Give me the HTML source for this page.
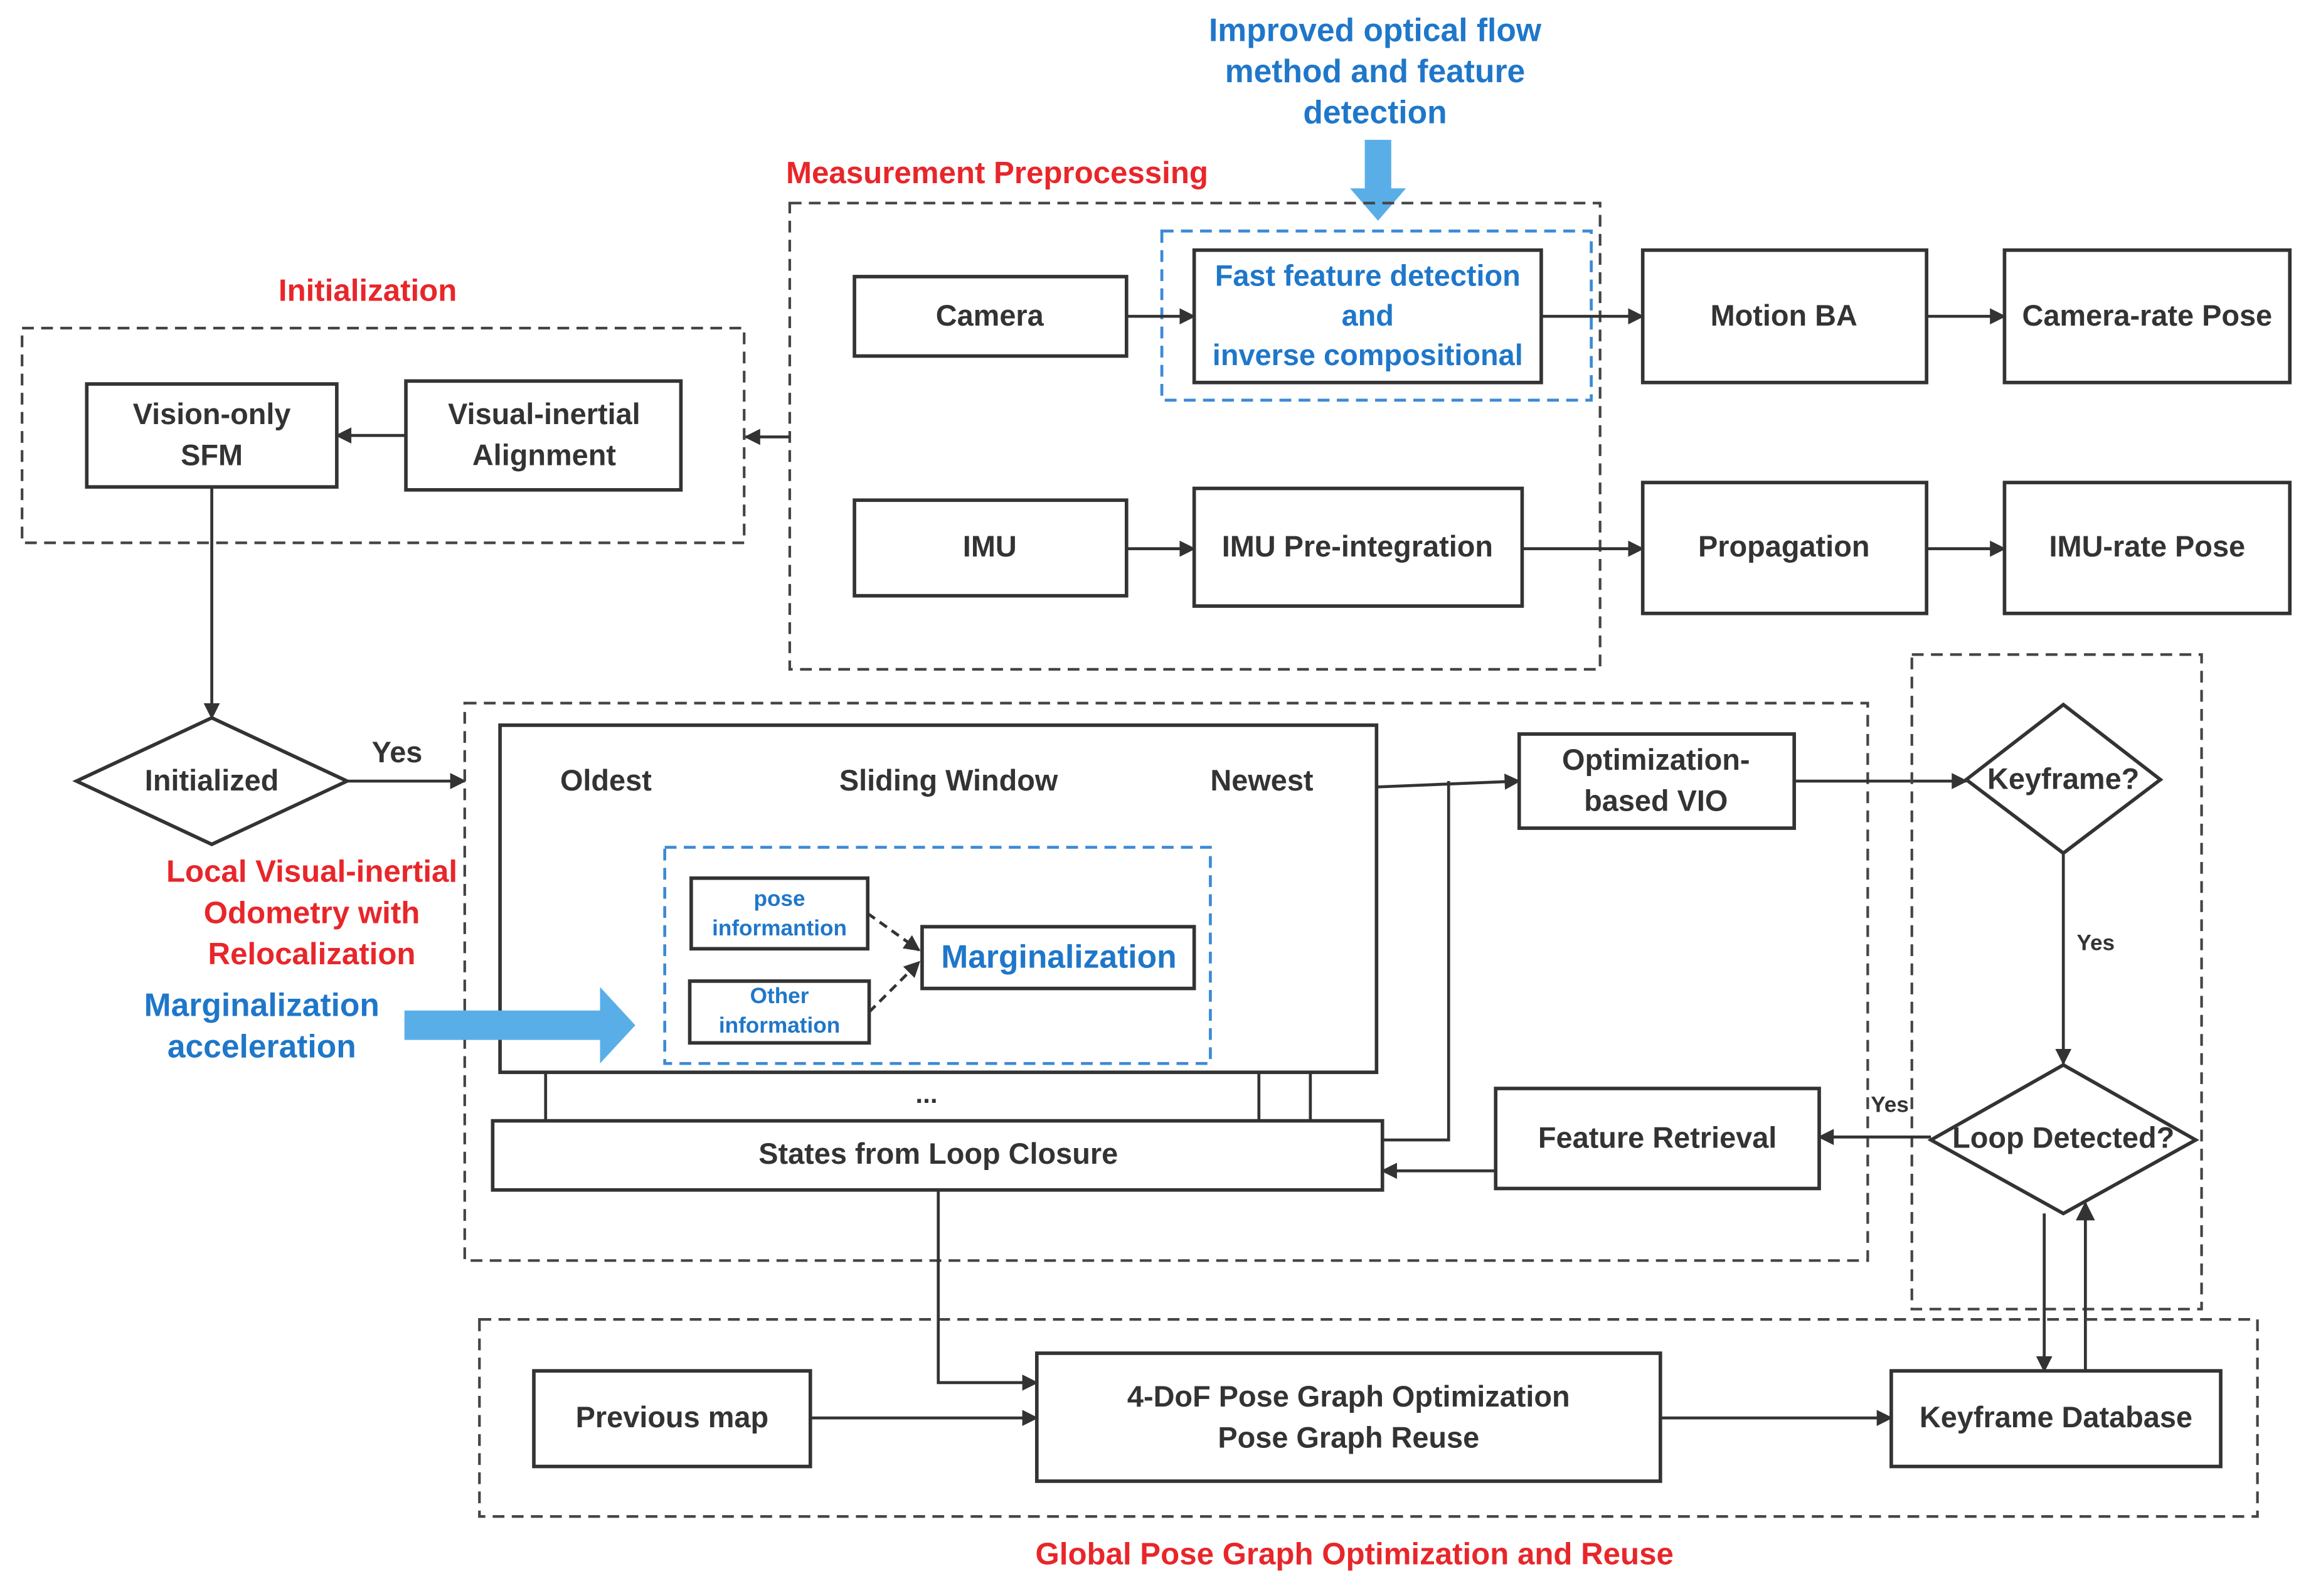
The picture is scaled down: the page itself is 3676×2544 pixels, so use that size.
<!DOCTYPE html>
<html><head><meta charset="utf-8"><style>
html,body{margin:0;padding:0;background:#fff;}
svg{display:block}
text{font-family:"Liberation Sans Narrow","Liberation Sans",sans-serif;font-weight:bold;text-anchor:middle;dominant-baseline:middle}
.k{fill:#333}
.r{fill:#e8262a}
.b{fill:#1f77c9}
.box{fill:#fff;stroke:#333;stroke-width:2.4}
.dash{fill:none;stroke:#444;stroke-width:1.8;stroke-dasharray:8 5}
.bd{fill:none;stroke:#3d8ad6;stroke-width:2;stroke-dasharray:8 5}
.ln{fill:none;stroke:#333;stroke-width:2}
</style></head><body>
<svg width="3676" height="2544" viewBox="0 0 1568 1085" xmlns="http://www.w3.org/2000/svg">
<defs><marker id="a" viewBox="0 0 10 10" refX="9" refY="5" markerWidth="13" markerHeight="11" orient="auto" markerUnits="userSpaceOnUse"><path d="M0,0L10,5L0,10z" fill="#333"/></marker>
<marker id="a2" viewBox="0 0 10 10" refX="9" refY="5" markerWidth="14" markerHeight="13" orient="auto" markerUnits="userSpaceOnUse"><path d="M0,0L10,5L0,10z" fill="#333"/></marker></defs>

<text class="b" x="935" y="22" font-size="22">Improved optical flow</text>
<text class="b" x="935" y="50" font-size="22">method and feature</text>
<text class="b" x="935" y="78" font-size="22">detection</text>
<path d="M928,95H946V128H956L937,150L918,128H928Z" fill="#5aaee8"/>

<text class="r" x="678" y="119" font-size="21">Measurement Preprocessing</text>
<rect class="dash" x="537" y="138" width="551" height="317"/>
<rect class="bd" x="790" y="157" width="292" height="115"/>
<rect class="box" x="581" y="188" width="185" height="54"/><text class="k" x="673" y="216" font-size="20">Camera</text>
<rect class="box" x="812" y="170" width="236" height="90"/>
<text class="b" x="930" y="189" font-size="20">Fast feature detection</text>
<text class="b" x="930" y="216" font-size="20">and</text>
<text class="b" x="930" y="243" font-size="20">inverse compositional</text>
<rect class="box" x="1117" y="170" width="193" height="90"/><text class="k" x="1213" y="216" font-size="20">Motion BA</text>
<rect class="box" x="1363" y="170" width="194" height="90"/><text class="k" x="1460" y="216" font-size="20">Camera-rate Pose</text>
<rect class="box" x="581" y="340" width="185" height="65"/><text class="k" x="673" y="373" font-size="20">IMU</text>
<rect class="box" x="812" y="332" width="223" height="80"/><text class="k" x="923" y="373" font-size="20">IMU Pre-integration</text>
<rect class="box" x="1117" y="328" width="193" height="89"/><text class="k" x="1213" y="373" font-size="20">Propagation</text>
<rect class="box" x="1363" y="328" width="194" height="89"/><text class="k" x="1460" y="373" font-size="20">IMU-rate Pose</text>
<path class="ln" d="M766,215H812" marker-end="url(#a)"/>
<path class="ln" d="M1048,215H1117" marker-end="url(#a)"/>
<path class="ln" d="M1310,215H1363" marker-end="url(#a)"/>
<path class="ln" d="M766,373H812" marker-end="url(#a)"/>
<path class="ln" d="M1035,373H1117" marker-end="url(#a)"/>
<path class="ln" d="M1310,373H1363" marker-end="url(#a)"/>
<path class="ln" d="M537,297H507" marker-end="url(#a)"/>

<text class="r" x="250" y="199" font-size="21">Initialization</text>
<rect class="dash" x="15" y="223" width="491" height="146"/>
<rect class="box" x="59" y="261" width="170" height="70"/>
<text class="k" x="144" y="283" font-size="20">Vision-only</text><text class="k" x="144" y="311" font-size="20">SFM</text>
<rect class="box" x="276" y="259" width="187" height="74"/>
<text class="k" x="370" y="283" font-size="20">Visual-inertial</text><text class="k" x="370" y="311" font-size="20">Alignment</text>
<path class="ln" d="M276,296H229" marker-end="url(#a)"/>
<path class="ln" d="M144,331V488" marker-end="url(#a)"/>
<path class="box" d="M144,488L236,531L144,574L52,531Z"/>
<text class="k" x="144" y="532" font-size="20">Initialized</text>
<path class="ln" d="M236,531H316" marker-end="url(#a)"/>
<text class="k" x="270" y="513" font-size="20">Yes</text>

<rect class="dash" x="316" y="478" width="954" height="379"/>
<text class="r" x="212" y="594" font-size="21">Local Visual-inertial</text>
<text class="r" x="212" y="622" font-size="21">Odometry with</text>
<text class="r" x="212" y="650" font-size="21">Relocalization</text>
<text class="b" x="178" y="685" font-size="22">Marginalization</text>
<text class="b" x="178" y="713" font-size="22">acceleration</text>

<rect class="box" x="340" y="493" width="596" height="236"/>
<path d="M275,687H408V671L432,697L408,723V707H275Z" fill="#5aaee8"/>
<text class="k" x="412" y="532" font-size="20">Oldest</text>
<text class="k" x="645" y="532" font-size="20">Sliding Window</text>
<text class="k" x="858" y="532" font-size="20">Newest</text>
<rect class="bd" x="452" y="576" width="371" height="147"/>
<rect class="box" x="470" y="597" width="120" height="48"/>
<text class="b" x="530" y="612" font-size="15">pose</text><text class="b" x="530" y="632" font-size="15">informantion</text>
<rect class="box" x="469" y="667" width="122" height="42"/>
<text class="b" x="530" y="678" font-size="15">Other</text><text class="b" x="530" y="698" font-size="15">information</text>
<rect class="box" x="627" y="630" width="185" height="42"/>
<text class="b" x="720" y="652" font-size="22">Marginalization</text>
<path class="ln" d="M590,621L625,646" stroke-dasharray="6 4" marker-end="url(#a)"/>
<path class="ln" d="M591,688L625,654" stroke-dasharray="6 4" marker-end="url(#a)"/>
<path class="ln" d="M371,729V762M856,729V762M891,729V762"/>
<text class="k" x="630" y="745" font-size="18">...</text>
<rect class="box" x="335" y="762" width="605" height="47"/>
<text class="k" x="638" y="786" font-size="20">States from Loop Closure</text>
<path class="ln" d="M936,535L1033,531" marker-end="url(#a)"/>
<path class="ln" d="M940,775H985V531"/>
<rect class="box" x="1033" y="499" width="187" height="64"/>
<text class="k" x="1126" y="518" font-size="20">Optimization-</text><text class="k" x="1126" y="546" font-size="20">based VIO</text>
<path class="ln" d="M1220,531H1337" marker-end="url(#a)"/>

<rect class="dash" x="1300" y="445" width="197" height="445"/>
<path class="box" d="M1403,479L1469,530L1403,580L1337,530Z"/>
<text class="k" x="1403" y="531" font-size="20">Keyframe?</text>
<path class="ln" d="M1403,580V723" marker-end="url(#a)"/>
<text class="k" x="1425" y="642" font-size="15">Yes</text>
<path class="box" d="M1403,724L1493,775L1403,825L1313,775Z"/>
<text class="k" x="1403" y="775" font-size="20">Loop Detected?</text>
<path class="ln" d="M1313,773H1237" marker-end="url(#a)"/>
<text class="k" x="1285" y="752" font-size="15">Yes</text>
<rect class="box" x="1017" y="740" width="220" height="68"/>
<text class="k" x="1127" y="775" font-size="20">Feature Retrieval</text>
<path class="ln" d="M1017,796H940" marker-end="url(#a)"/>
<path class="ln" d="M1390,825V932" marker-end="url(#a)"/>
<path class="ln" d="M1418,932V818" marker-end="url(#a2)"/>

<rect class="dash" x="326" y="897" width="1209" height="134"/>
<rect class="box" x="363" y="932" width="188" height="65"/>
<text class="k" x="457" y="965" font-size="20">Previous map</text>
<rect class="box" x="705" y="920" width="424" height="87"/>
<text class="k" x="917" y="951" font-size="20">4-DoF Pose Graph Optimization</text>
<text class="k" x="917" y="979" font-size="20">Pose Graph Reuse</text>
<rect class="box" x="1286" y="932" width="224" height="65"/>
<text class="k" x="1398" y="965" font-size="20">Keyframe Database</text>
<path class="ln" d="M551,964H705" marker-end="url(#a)"/>
<path class="ln" d="M1129,964H1286" marker-end="url(#a)"/>
<path class="ln" d="M638,809V940H705" marker-end="url(#a)"/>
<text class="r" x="921" y="1058" font-size="21">Global Pose Graph Optimization and Reuse</text>
</svg>
</body></html>
